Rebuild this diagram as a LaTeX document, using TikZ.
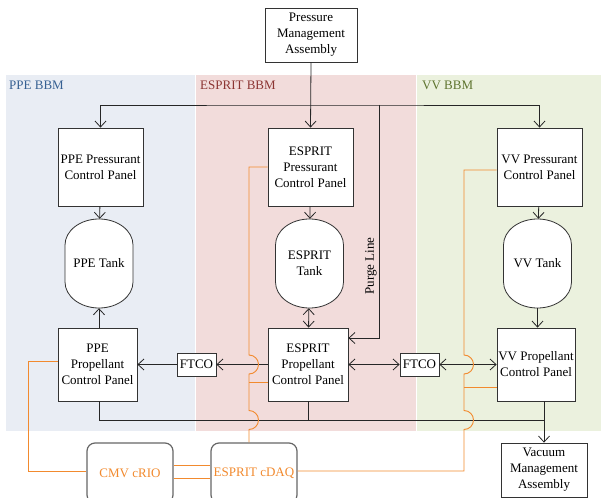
\documentclass[tikz,border=0pt]{standalone}
\usepackage{fontspec}
\setmainfont{Liberation Serif}
\usetikzlibrary{arrows.meta}

\definecolor{ppebg}{HTML}{E9EDF4}
\definecolor{espbg}{HTML}{F2DCDB}
\definecolor{vvbg}{HTML}{EBF1DE}
\definecolor{ppetxt}{HTML}{366092}
\definecolor{esptxt}{HTML}{8C3533}
\definecolor{vvtxt}{HTML}{5F7530}
\definecolor{sigcol}{HTML}{F28A2E}

\begin{document}
\begin{tikzpicture}[x=1pt, y=-1pt,
    >={Straight Barb[length=6pt,width=11pt]},
    every node/.style={font=\fontsize{13}{16}\selectfont},
    panel/.style={draw=black!80, fill=white, line width=0.8pt, align=center, inner sep=1pt},
    tank/.style={align=center, inner sep=1pt, minimum width=68pt, minimum height=89pt},
    tankwall/.style={draw=black!80, fill=white, line width=0.8pt},
    daq/.style={draw=black!60, fill=white, line width=1.2pt, rounded corners=8pt, text=sigcol,
                minimum width=86pt, minimum height=60pt, inner sep=1pt},
    pipe/.style={draw=black!85, line width=0.8pt},
    flow/.style={pipe, ->},
    sig/.style={draw=sigcol, line width=0.9pt},
    bbm/.style={anchor=west, inner sep=0pt}]
    \useasboundingbox (0,0) rectangle (601,497);
    \clip (0,0) rectangle (601,497);

    % Test bed areas
    \fill[ppebg] (6,75) rectangle (195,431);
    \fill[espbg] (196,75) rectangle (416,431);
    \fill[vvbg] (417,75) rectangle (601,431);
    \node[bbm, text=ppetxt] (ppebbm) at (9,85) {PPE BBM};
    \node[bbm, text=esptxt] (espbbm) at (200,85) {ESPRIT BBM};
    \node[bbm, text=vvtxt] (vvbbm) at (422,85) {VV BBM};

    % Supply and vacuum
    \node[panel, minimum width=92pt, minimum height=54pt] (pma) at (311,35) {Pressure\\Management\\Assembly};
    \node[panel, minimum width=86pt, minimum height=54pt] (vma) at (544,470) {Vacuum\\Management\\Assembly};

    % Pressurant panels
    \node[panel, minimum width=85pt, minimum height=78pt] (ppepress) at (100.5,167) {PPE Pressurant\\Control Panel};
    \node[panel, minimum width=85pt, minimum height=78pt] (esppress) at (310.5,167) {ESPRIT\\Pressurant\\Control Panel};
    \node[panel, minimum width=85pt, minimum height=78pt] (vvpress) at (539.5,167) {VV Pressurant\\Control Panel};

    % Tanks (domed ends)
    \foreach \x in {99,309.5,537.5}
        \path[tankwall] (\x-34,245) arc[start angle=180, end angle=0, x radius=34pt, y radius=26pt]
            -- (\x+34,282) arc[start angle=0, end angle=-180, x radius=34pt, y radius=26pt] -- cycle;
    \node[tank] (ppetank) at (99,263.5) {PPE Tank};
    \node[tank] (esptank) at (309.5,263.5) {ESPRIT\\Tank};
    \node[tank] (vvtank) at (537.5,263.5) {VV Tank};

    % Propellant panels
    \node[panel, minimum width=79pt, minimum height=73pt] (pprop) at (97.5,364.5) {PPE\\Propellant\\Control Panel};
    \node[panel, minimum width=80pt, minimum height=73pt] (espprop) at (308,364.5) {ESPRIT\\Propellant\\Control Panel};
    \node[panel, minimum width=78pt, minimum height=73pt] (vvprop) at (536,364.5) {VV Propellant\\Control Panel};
    \node[panel, minimum width=39pt, minimum height=23pt] (ftcol) at (196.5,364.5) {FTCO};
    \node[panel, minimum width=39pt, minimum height=23pt] (ftcor) at (419.5,364.5) {FTCO};

    % DAQ
    \node[daq] (crio) at (130,473) {CMV cRIO};
    \node[daq] (cdaq) at (254,473) {ESPRIT cDAQ};

    % Pressurant header and purge line
    \coordinate (hdr) at (0,105);
    \coordinate (purge) at (379,105);
    \draw[flow] (pma.south) -- (esppress.north);
    \draw[pipe, <->] (ppepress.north) |- (esppress.north |- hdr) -| (vvpress.north);
    \draw[flow] (purge) |- ([yshift=26.5pt]espprop.east);
    \node[rotate=90, inner sep=0pt] (purgelbl) at (371,266) {Purge Line};

    % Fluid lines
    \draw[flow] (ppepress) -- (ppetank);
    \draw[flow] (esppress) -- (esptank);
    \draw[flow] (vvpress) -- (vvtank);
    \draw[flow] (pprop.north -| ppetank.south) -- (ppetank.south);
    \draw[pipe, <->] (esptank) -- (espprop);
    \draw[flow] (vvtank.south) -- (vvtank.south |- vvprop.north);
    \draw[flow] (espprop.west) -- (ftcol.east);
    \draw[flow] (ftcol.west) -- (pprop.east);
    \draw[pipe, <->] (espprop.east) -- (ftcor.west);
    \draw[pipe, <->] (ftcor.east) -- (vvprop.west);

    % Drain line
    \coordinate (drain) at (0,420);
    \draw[pipe] (pprop.south -| ppetank.south) |- (vma.north |- drain);
    \draw[pipe] (espprop.south) -- (espprop.south |- drain);
    \draw[flow] (vma.north |- vvprop.south) -- (vma.north);

    % Instrumentation
    \coordinate (loopL) at (28,0);
    \coordinate (busL) at (249,0);
    \coordinate (busR) at (464,0);
    \coordinate (pprop-in) at ([yshift=3pt]pprop.west);
    \coordinate (crio-in) at ([yshift=2pt]crio.west);
    \coordinate (cdaq-out) at ([yshift=2pt]cdaq.east);
    \coordinate (espprop-in) at ([yshift=-18pt]espprop.west);
    \coordinate (vvprop-in) at ([yshift=-22.5pt]vvprop.west);
    \coordinate (vvpress-in) at ([yshift=-3pt]vvpress.west);
    \coordinate (hopL1) at (busL |- drain);
    \coordinate (hopL2) at (busL |- espprop.west);
    \coordinate (hopR1) at (busR |- drain);
    \coordinate (hopR2) at (busR |- vvprop.west);

    \draw[sig] (pprop-in) -- (pprop-in -| loopL) |- (crio-in);
    \draw[sig] ([yshift=8pt]crio.east) -- ([yshift=8pt]cdaq.west);
    \draw[sig] ([yshift=-5pt]crio.east) -- ([yshift=-5pt]cdaq.west);
    \draw[sig] (cdaq.north -| busL) -- ([yshift=-9.5pt]hopL1) arc[start angle=-90, end angle=90, radius=9.5pt]
        -- ([yshift=-9.5pt]hopL2) arc[start angle=-90, end angle=90, radius=9.5pt]
        -- (esppress.west -| busL) -- (esppress.west);
    \draw[sig] (espprop-in -| busL) -- (espprop-in);
    \draw[sig] (cdaq-out) -| ([yshift=-9.5pt]hopR1) arc[start angle=-90, end angle=90, radius=9.5pt]
        -- ([yshift=-9.5pt]hopR2) arc[start angle=-90, end angle=90, radius=9.5pt]
        -- (vvpress-in -| busR) -- (vvpress-in);
    \draw[sig] (vvprop-in -| busR) -- (vvprop-in);
\end{tikzpicture}
\end{document}
